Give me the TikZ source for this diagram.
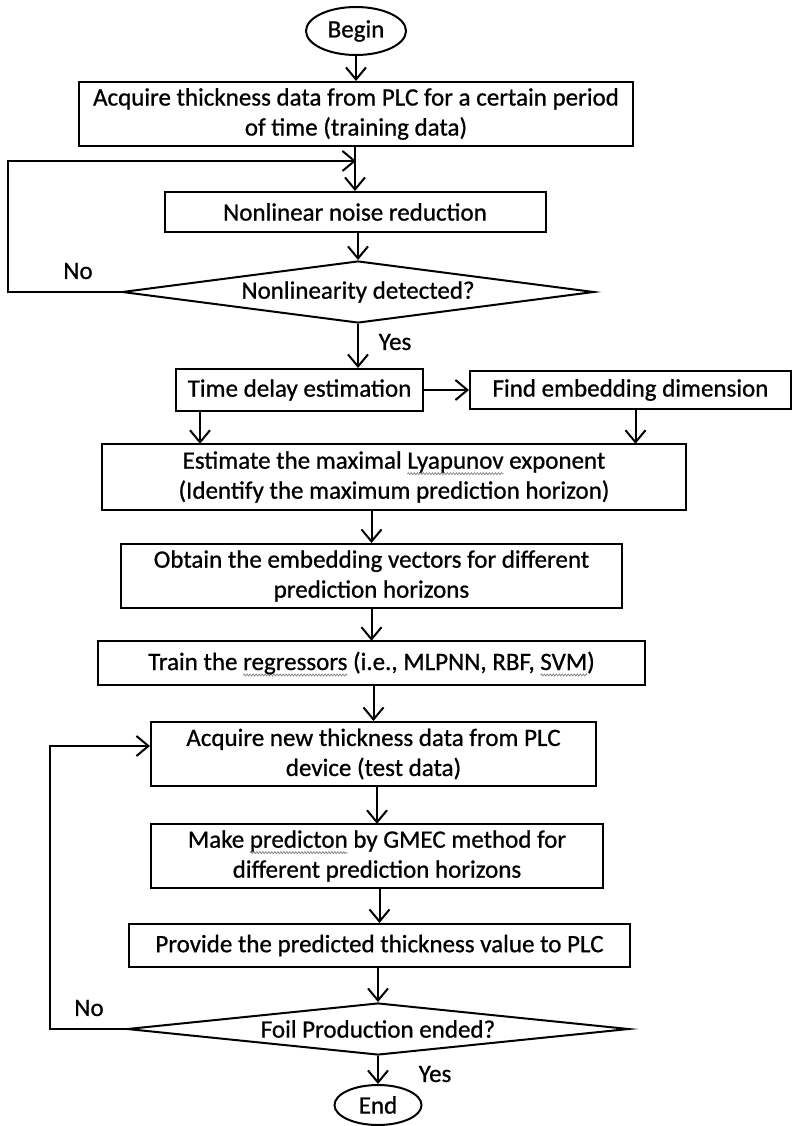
\documentclass[tikz,border=0pt]{standalone}
\usepackage{fontspec}
\setmainfont{Carlito}[FakeBold=0.8]
\usetikzlibrary{arrows.meta,shapes.geometric,decorations.pathmorphing}
\newcommand\squig[1]{\setbox0\hbox{#1}\rlap{\tikz[baseline=0pt, overlay]{\draw[gray, line width=0.7pt, decorate, decoration={snake, amplitude=1pt, segment length=3pt}] (0pt,-5pt) -- (\wd0,-5pt);}}\box0\relax}

\begin{document}
\begin{tikzpicture}[x=1pt, y=-1pt, line width=2pt,
	every node/.append style={text=black, font=\fontsize{25}{30}\selectfont},
	box/.style={draw, rectangle, align=center, inner sep=0pt},
	decision/.style={draw, diamond, inner sep=0pt},
	terminal/.style={draw, ellipse, inner sep=0pt},
	arr/.style={-{Straight Barb[length=12pt, width=20pt]}}]
\useasboundingbox (0,0) rectangle (794,1126);

	\node[terminal, minimum width=100pt, minimum height=48pt] (begin) at (356,31) {Begin};
	\node[box, minimum width=554pt, minimum height=64pt] (acq) at (356,114)
		{Acquire thickness data from PLC for a certain period\\of time (training data)};
	\node[box, minimum width=381pt, minimum height=40pt] (noise) at (355,212) {Nonlinear noise reduction};
	\node[decision, aspect=7.6, minimum width=472pt, minimum height=62pt] (nonlin) at (358,292) {Nonlinearity detected?};
	\node[box, minimum width=247pt, minimum height=42pt] (delay) at (299.5,390) {Time delay estimation};
	\node[box, minimum width=321pt, minimum height=38pt] (embed) at (630.5,390) {Find embedding dimension};
	\node[box, minimum width=584pt, minimum height=66pt] (lyap) at (394,477)
		{Estimate the maximal \squig{Lyapunov} exponent\\(Identify the maximum prediction horizon)};
	\node[box, minimum width=501pt, minimum height=64pt] (vectors) at (371.5,576)
		{Obtain the embedding vectors for different\\prediction horizons};
	\node[box, minimum width=547pt, minimum height=44pt] (train) at (371.5,663)
		{Train the \squig{regressors} (i.e., MLPNN, RBF, \squig{SVM})};
	\node[box, minimum width=445pt, minimum height=64pt] (newdata) at (373.5,754)
		{Acquire new thickness data from PLC\\device (test data)};
	\node[box, minimum width=452pt, minimum height=64pt] (predict) at (377,856)
		{Make \squig{predicton} by GMEC method for\\different prediction horizons};
	\node[box, minimum width=501pt, minimum height=43pt] (provide) at (379.5,945.5)
		{Provide the predicted thickness value to PLC};
	\node[decision, aspect=9.6, minimum width=502pt, minimum height=52pt] (ended) at (378,1029) {Foil Production ended?};
	\node[terminal, minimum width=87pt, minimum height=40pt] (end) at (378,1105) {End};

	\node (no1) at (78,271) {No};
	\node (yes1) at (395,342) {Yes};
	\node (no2) at (89,1008) {No};
	\node (yes2) at (435,1074) {Yes};

	\coordinate (l1) at (8,161);
	\coordinate (l2) at (50,746);

	\foreach \a/\b in {begin/acq, acq/noise, noise/nonlin, lyap/vectors, vectors/train, train/newdata, newdata/predict, predict/provide, provide/ended, ended/end}
	{
		\draw[arr] (\b.north |- \a.south) -- (\b.north);
	}
	\draw[arr] (nonlin.south) -- (nonlin.south |- delay.north);
	\draw[arr] (delay.east) -- (embed.west);
	\draw[arr] ([xshift=25pt]delay.south west) -- ([xshift=25pt]delay.south west |- lyap.north);
	\draw[arr] ([xshift=5pt]embed.south) -- ([xshift=5pt]embed.south |- lyap.north);

	\draw[arr] (nonlin.west) -| (l1) -- (l1 -| acq.south);
	\draw[arr] (ended.west) -| (l2) -- (newdata.west |- l2);

\end{tikzpicture}
\end{document}
